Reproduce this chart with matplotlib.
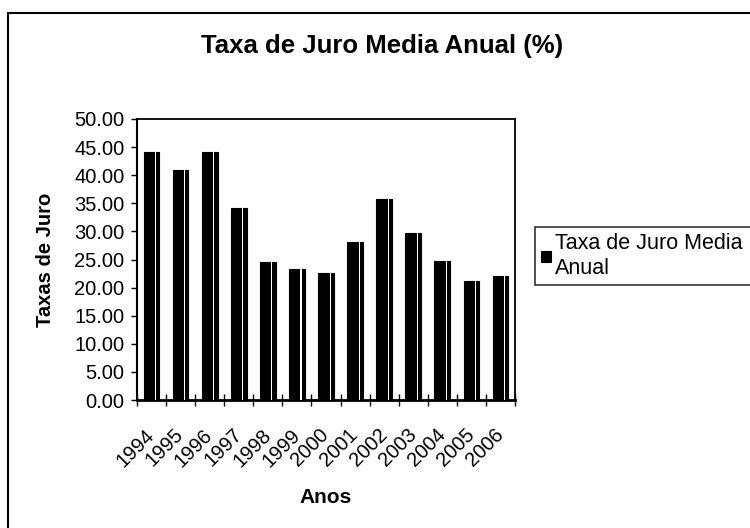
import matplotlib
matplotlib.use("Agg")
import matplotlib.pyplot as plt
import matplotlib.patches as mpatches
import numpy as np

years = ["1994", "1995", "1996", "1997", "1998", "1999", "2000",
         "2001", "2002", "2003", "2004", "2005", "2006"]
rates = [44.1, 40.9, 44.1, 34.2, 24.5, 23.3, 22.6,
         28.2, 35.7, 29.7, 24.7, 21.2, 22.1]
series_name = "Taxa de Juro Media\nAnual"
title = "Taxa de Juro Media Anual (%)"
ylabel = "Taxas de Juro"
xlabel = "Anos"
yticks = [0, 5, 10, 15, 20, 25, 30, 35, 40, 45, 50]

plt.rcParams['font.family'] = ['Liberation Sans', 'DejaVu Sans']

W, H = 750, 528
fig = plt.figure(figsize=(W / 100, H / 100), dpi=100)
ax = fig.add_axes([137 / W, 1 - 400 / H, (515 - 137) / W, (400 - 119) / H])

x = np.arange(len(years))
bars = ax.bar(x, rates, width=0.54, color="black", edgecolor="black",
              linewidth=0.8, label=series_name, zorder=2)
# thin highlight line inside each bar
ax.bar(x + 0.14, rates, width=0.035, color="white", linewidth=0, zorder=3)

ax.set_xlim(-0.5, len(years) - 0.5)
ax.set_ylim(0, 50)
ax.set_yticks(yticks)
ax.set_yticklabels([f"{v:.2f}" for v in yticks], fontsize=14.5)
ax.tick_params(axis='y', direction='out', length=4, width=1, pad=5)

ax.set_xticks(x)
ax.set_xticklabels(years, rotation=45, ha='right', va='center',
                   rotation_mode='anchor', fontsize=14.5)
ax.tick_params(axis='x', which='major', length=0, pad=23)
ax.set_xticks(np.arange(-0.5, len(years), 1), minor=True)
ax.tick_params(axis='x', which='minor', direction='inout', length=8, width=1)

for s in ax.spines.values():
    s.set_linewidth(1.3)
    s.set_color("black")
ax.spines['bottom'].set_linewidth(2)
ax.spines['left'].set_linewidth(1.5)

ax.set_ylabel(ylabel, fontsize=14.5, fontweight='bold', labelpad=14)
ax.set_xlabel(xlabel, fontsize=15, fontweight='bold', labelpad=13)

fig.text(382 / W, 1 - 46 / H, title, ha='center', va='center',
         fontsize=18.5, fontweight='bold')

# outer chart frame (right and bottom edges lie outside the image)
frame = mpatches.Rectangle((8 / W, -0.2), 1.2, 1 - 13 / H + 0.2,
                           transform=fig.transFigure, fill=False,
                           edgecolor='black', linewidth=1.5, clip_on=False)
fig.patches.append(frame)

leg = fig.legend(handles=[bars], labels=[series_name],
                 loc='upper left',
                 bbox_to_anchor=(535 / W, 1 - 227 / H, 230 / W, 0.0),
                 mode='expand', frameon=True, fancybox=False,
                 edgecolor='black', fontsize=15.5, handlelength=0.45,
                 handleheight=0.45, handletextpad=0.2, borderpad=0.3,
                 borderaxespad=0, labelspacing=0.1)
leg.get_frame().set_linewidth(1.2)

fig.savefig("out.png", dpi=100)
